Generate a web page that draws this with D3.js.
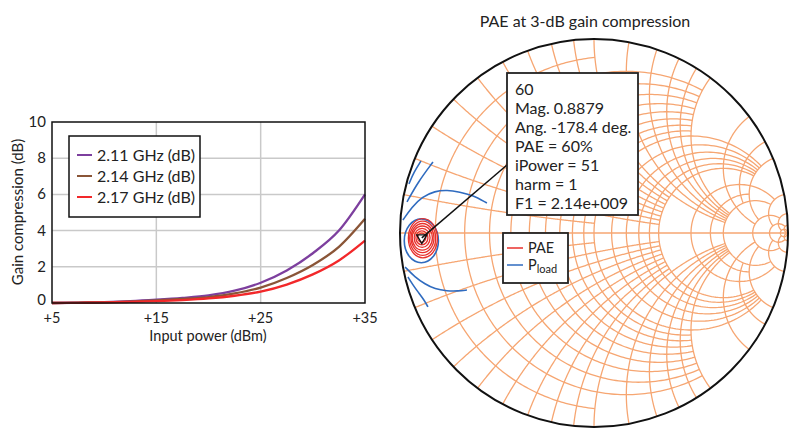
<!DOCTYPE html>
<html>
<head>
<meta charset="utf-8">
<script src="https://cdn.jsdelivr.net/npm/d3@7"></script>
<style>
  body { margin: 0; background: #fff; }
  svg { font-family: Lato, "Open Sans", sans-serif; }
</style>
</head>
<body>
<svg id="chart" width="800" height="446"></svg>
<script>
// ---- gain compression data ----
const inputPower = [5, 7.5, 10, 12.5, 15, 17.5, 20, 22.5, 25, 27.5, 30, 32.5, 35];
const comp211 = [0, 0.02, 0.05, 0.1, 0.18, 0.28, 0.42, 0.68, 1.12, 1.8, 2.75, 4.0, 6.0];
const comp214 = [0, 0.02, 0.04, 0.08, 0.14, 0.22, 0.33, 0.53, 0.85, 1.38, 2.1, 3.1, 4.65];
const comp217 = [0, 0.01, 0.03, 0.06, 0.1, 0.16, 0.25, 0.4, 0.63, 1.02, 1.58, 2.35, 3.45];
const seriesNames = ["2.11 GHz (dB)", "2.14 GHz (dB)", "2.17 GHz (dB)"];
const seriesColors = ["#7d3f9e", "#8a5537", "#f2282a"];
const xTicks = [5, 15, 25, 35];
const yTicks = [0, 2, 4, 6, 8, 10];

// ---- smith chart grid (value, limit) ----
const gridValues = [50, 20, 10, 5, 4, 3, 2, 1.8, 1.6, 1.4, 1.2, 1, 0.9, 0.8, 0.7, 0.6, 0.5, 0.4, 0.3, 0.2, 0.1];
const gridLimits = [Infinity, 50, 20, 10, 5, 10, 5, 5, 5, 5, 5, 5, 2, 2, 2, 2, 2, 2, 2, 2, 1];

// ---- marker / contours (reflection coefficient plane) ----
const markerMag = 0.8879, markerAng = -178.4;
const markerInfo = ["60", "Mag. 0.8879", "Ang. -178.4 deg.", "PAE = 60%", "iPower = 51", "harm = 1", "F1 = 2.14e+009"];
const paeCx = [-0.888, -0.887, -0.886, -0.885, -0.884, -0.883, -0.882];
const paeCy = [-0.024, -0.025, -0.025, -0.026, -0.026, -0.027, -0.027];
const paeRx = [0.021, 0.031, 0.041, 0.052, 0.059, 0.067, 0.075];
const paeRy = [0.023, 0.036, 0.049, 0.062, 0.075, 0.088, 0.101];
const ploadLoop = { cx: -0.89, cy: -0.04, rx: 0.088, ry: 0.113 };
const ploadCurves = [
  [[-0.954, 0.253], [-0.928, 0.314], [-0.892, 0.371]],
  [[-0.964, 0.160], [-0.907, 0.263], [-0.830, 0.366]],
  [[-0.985, 0.067], [-0.938, 0.134], [-0.887, 0.186], [-0.820, 0.216], [-0.758, 0.222], [-0.691, 0.211], [-0.629, 0.196], [-0.552, 0.155]],
  [[-0.974, -0.175], [-0.923, -0.227], [-0.871, -0.263], [-0.820, -0.289], [-0.758, -0.299], [-0.701, -0.299], [-0.655, -0.294]],
  [[-0.959, -0.227], [-0.933, -0.268], [-0.907, -0.304], [-0.876, -0.345], [-0.856, -0.381]]
];

const svg = d3.select("#chart");

const renderGain = (selection) => {
  const x = d3.scaleLinear().domain([5, 35]).range([52, 365]);
  const y = d3.scaleLinear().domain([0, 10]).range([303, 122]);
  const g = selection.append("g");

  // grid
  g.selectAll(".vgrid").data([15, 25]).enter().append("line")
    .attr("x1", d => x(d)).attr("x2", d => x(d))
    .attr("y1", y(10)).attr("y2", y(0))
    .attr("stroke", "#c9c9c9").attr("stroke-width", 1.5);
  g.selectAll(".hgrid").data([2, 4, 6, 8]).enter().append("line")
    .attr("x1", x(5)).attr("x2", x(35))
    .attr("y1", d => y(d)).attr("y2", d => y(d))
    .attr("stroke", "#c9c9c9").attr("stroke-width", 1.5);

  // curves
  const line = d3.line()
    .x((d, i) => x(inputPower[i]))
    .y(d => y(d))
    .curve(d3.curveMonotoneX);
  [comp211, comp214, comp217].forEach((s, i) => {
    g.append("path").attr("d", line(s))
      .attr("fill", "none")
      .attr("stroke", seriesColors[i])
      .attr("stroke-width", 2.3);
  });

  // frame
  g.append("rect")
    .attr("x", x(5)).attr("y", y(10))
    .attr("width", x(35) - x(5)).attr("height", y(0) - y(10))
    .attr("fill", "none").attr("stroke", "#111").attr("stroke-width", 1.5);

  // tick labels
  g.selectAll(".xt").data(xTicks).enter().append("text")
    .attr("x", d => x(d)).attr("y", 323)
    .attr("text-anchor", "middle").attr("font-size", 14.5).attr("fill", "#222")
    .text(d => "+" + d);
  g.selectAll(".yt").data(yTicks).enter().append("text")
    .attr("x", 46).attr("y", d => Math.min(y(d), 300) + 5)
    .attr("text-anchor", "end").attr("font-size", 15).attr("fill", "#222")
    .text(d => d);

  g.append("text").attr("x", 208).attr("y", 341)
    .attr("text-anchor", "middle").attr("font-size", 14.5).attr("fill", "#222")
    .text("Input power (dBm)");
  g.append("text")
    .attr("transform", "translate(23,212) rotate(-90)")
    .attr("text-anchor", "middle").attr("font-size", 15).attr("fill", "#222")
    .text("Gain compression (dB)");

  // legend
  const lg = g.append("g").attr("transform", "translate(69,136)");
  lg.append("rect").attr("width", 131).attr("height", 81)
    .attr("fill", "#fff").attr("stroke", "#111").attr("stroke-width", 1.5);
  seriesNames.forEach((name, i) => {
    const yy = 19 + i * 21;
    lg.append("line").attr("x1", 8).attr("x2", 23).attr("y1", yy).attr("y2", yy)
      .attr("stroke", seriesColors[i]).attr("stroke-width", 2);
    lg.append("text").attr("x", 28).attr("y", yy + 5.5)
      .attr("font-size", 16).attr("fill", "#222").text(name);
  });
};

const gamma = (r, xv) => {
  const den = (r + 1) * (r + 1) + xv * xv;
  return [(r * r + xv * xv - 1) / den, 2 * xv / den];
};

const renderSmith = (selection) => {
  const cx = 594, cy = 233, R = 194;
  const sx = d3.scaleLinear().domain([-1, 1]).range([cx - R, cx + R]);
  const sy = d3.scaleLinear().domain([-1, 1]).range([cy + R, cy - R]);
  const line = d3.line().x(d => sx(d[0])).y(d => sy(d[1]));
  const g = selection.append("g");
  const N = 240;

  g.append("text").attr("x", 585).attr("y", 27)
    .attr("text-anchor", "middle").attr("font-size", 16).attr("fill", "#222")
    .text("PAE at 3-dB gain compression");

  const grid = g.append("g")
    .attr("fill", "none").attr("stroke", "#f6a672").attr("stroke-width", 1.3);

  gridValues.forEach((v, i) => {
    const lim = gridLimits[i];
    // resistance circle r = v, reactance -lim..lim
    const a = Math.atan(lim);
    const pts = d3.range(N + 1).map(k => gamma(v, Math.tan(-a + 2 * a * k / N)));
    grid.append("path").attr("d", line(pts));
    // reactance arcs x = +-v, resistance 0..lim
    [1, -1].forEach(sgn => {
      const arc = d3.range(N + 1).map(k => gamma(Math.tan(a * k / N), sgn * v));
      grid.append("path").attr("d", line(arc));
    });
  });
  grid.append("line")
    .attr("x1", sx(-1)).attr("x2", sx(1)).attr("y1", sy(0)).attr("y2", sy(0));

  g.append("circle").attr("cx", sx(0)).attr("cy", sy(0)).attr("r", sx(1) - sx(0))
    .attr("fill", "none").attr("stroke", "#111").attr("stroke-width", 2);

  // Pload contours
  const blue = g.append("g").attr("fill", "none").attr("stroke", "#2f6bbf").attr("stroke-width", 1.6);
  blue.append("ellipse")
    .attr("cx", sx(ploadLoop.cx)).attr("cy", sy(ploadLoop.cy))
    .attr("rx", sx(ploadLoop.rx) - sx(0)).attr("ry", sy(0) - sy(ploadLoop.ry));
  ploadCurves.forEach(c => {
    blue.append("path").attr("d", d3.line().x(d => sx(d[0])).y(d => sy(d[1])).curve(d3.curveBasis)(c));
  });

  // PAE contours
  const red = g.append("g").attr("fill", "none").attr("stroke", "#e8302c").attr("stroke-width", 1.3);
  red.selectAll("ellipse").data(paeRx).enter().append("ellipse")
    .attr("cx", (d, i) => sx(paeCx[i])).attr("cy", (d, i) => sy(paeCy[i]))
    .attr("rx", d => sx(d) - sx(0)).attr("ry", (d, i) => sy(0) - sy(paeRy[i]));

  // marker
  const ang = markerAng * Math.PI / 180;
  const mx = sx(markerMag * Math.cos(ang)), my = sy(markerMag * Math.sin(ang));
  g.append("line").attr("x1", mx).attr("y1", my).attr("x2", 507).attr("y2", 165)
    .attr("stroke", "#111").attr("stroke-width", 1.5);
  g.append("path")
    .attr("d", d3.symbol(d3.symbolTriangle, 45)())
    .attr("transform", `translate(${mx},${my}) rotate(180)`)
    .attr("fill", "none").attr("stroke", "#111").attr("stroke-width", 1.3);

  // info box
  const box = g.append("g").attr("transform", "translate(507,73)");
  box.append("rect").attr("width", 131).attr("height", 142)
    .attr("fill", "#fff").attr("stroke", "#222").attr("stroke-width", 1.8);
  box.selectAll("text").data(markerInfo).enter().append("text")
    .attr("x", 8).attr("y", (d, i) => 21.5 + i * 19)
    .attr("font-size", 16).attr("fill", "#222")
    .text(d => d);

  // legend
  const lg = g.append("g").attr("transform", "translate(503,233)");
  lg.append("rect").attr("width", 65).attr("height", 50)
    .attr("fill", "#fff").attr("stroke", "#222").attr("stroke-width", 1.8);
  lg.append("line").attr("x1", 4).attr("x2", 20).attr("y1", 15).attr("y2", 15)
    .attr("stroke", "#e8302c").attr("stroke-width", 1.5);
  lg.append("text").attr("x", 25).attr("y", 19.5).attr("font-size", 14.5).attr("fill", "#222").text("PAE");
  lg.append("line").attr("x1", 4).attr("x2", 20).attr("y1", 32).attr("y2", 32)
    .attr("stroke", "#2f6bbf").attr("stroke-width", 1.5);
  const pt = lg.append("text").attr("x", 25).attr("y", 37).attr("font-size", 14.5).attr("fill", "#222");
  pt.append("tspan").text("P");
  pt.append("tspan").attr("font-size", 11).attr("dy", 3).text("load");
};

renderGain(svg);
renderSmith(svg);
</script>
</body>
</html>
